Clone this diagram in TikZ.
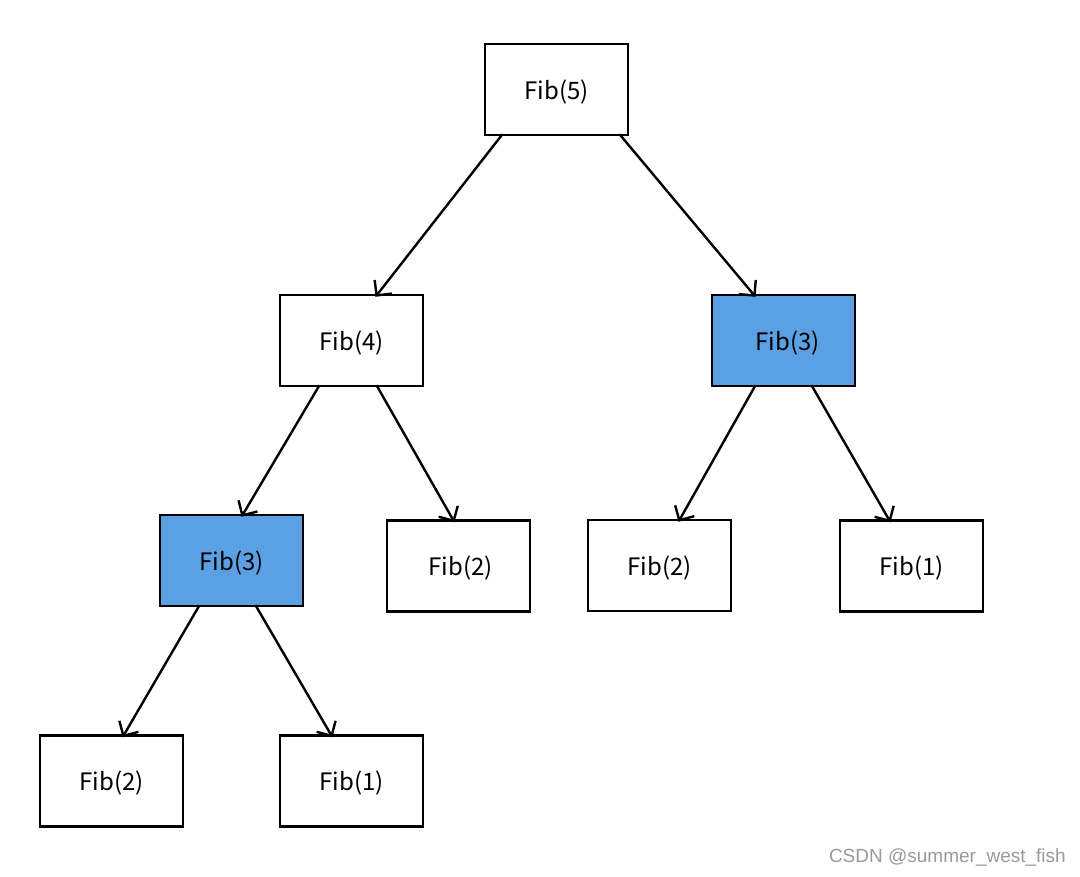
\documentclass[tikz,border=0pt]{standalone}
\usepackage{fontspec}
\setmainfont{Noto Sans CJK SC}
\newfontfamily\markfont{Liberation Sans}
\usetikzlibrary{arrows.meta}
\definecolor{dupblue}{RGB}{92,160,228}

\begin{document}
\begin{tikzpicture}[x=1pt,y=-1pt,
        fibbox/.style={draw,line width=2.4pt,minimum width=143pt,minimum height=91pt,
            inner sep=0pt,text depth=0pt,font=\fontsize{24}{28}\selectfont},
        dupbox/.style={fibbox,fill=dupblue},
        call/.style={line width=2.4pt,-{Straight Barb[length=11pt,width=22pt,line width=2.4pt]}}]
        \useasboundingbox (0,0) rectangle (1080,877);

        % 画出节点
        \node[fibbox] (f5) at (556.5,89.5) {Fib(5)};
        \node[fibbox] (f4) at (351.5,340.5) {Fib(4)};
        \node[dupbox] (f3r) at (783.5,340.5) {\hspace{8pt}Fib(3)};
        \node[dupbox] (f3l) at (231.5,560.5) {Fib(3)};
        \node[fibbox] (f2a) at (458.5,566) {\hspace{4pt}Fib(2)};
        \node[fibbox] (f2b) at (659.5,565.5) {Fib(2)};
        \node[fibbox] (f1a) at (911.5,566) {Fib(1)};
        \node[fibbox] (f2c) at (111.5,781) {Fib(2)};
        \node[fibbox] (f1b) at (351.5,781) {Fib(1)};

        % 画出箭头
        \foreach \a/\ax/\b/\bx in {f5/-54/f4/24, f5/63/f3r/-28,
                f4/-32/f3l/10, f4/25/f2a/-4,
                f3r/-28/f2b/19, f3r/28/f1a/-21,
                f3l/-32/f2c/11, f3l/24/f1b/-19} {
            \draw[call] ([xshift=\ax pt,yshift=2pt]\a.south) -- ([xshift=\bx pt,yshift=-3pt]\b.north);
        }

        % 水印
        \node[anchor=east,text=black!40,font=\markfont\fontsize{19}{21}\selectfont,inner sep=0pt]
            (mark) at (1066,858) {CSDN @summer\_west\_fish};

    \end{tikzpicture}
\end{document}
